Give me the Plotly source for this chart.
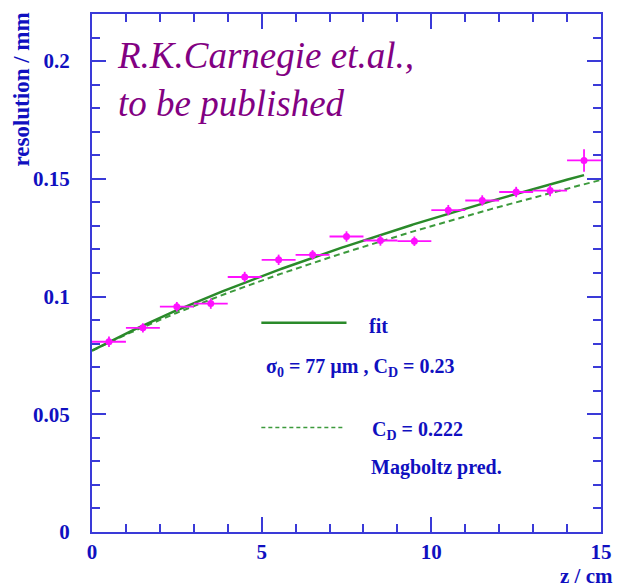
import numpy as np
import plotly.graph_objects as go

# Measured drift-chamber resolution versus drift distance
z_cm = [0.5, 1.5, 2.5, 3.5, 4.5, 5.5, 6.5, 7.5, 8.5, 9.5, 10.5, 11.5, 12.5, 13.5, 14.5]
resolution_mm = [0.0808, 0.0867, 0.0957, 0.0970, 0.1083, 0.1156, 0.1177, 0.1255,
                 0.1238, 0.1235, 0.1367, 0.1408, 0.1444, 0.1450, 0.1578]
z_halfwidth = [0.5] * 15
res_err = [0.0022, 0.0020, 0.0020, 0.0022, 0.0022, 0.0022, 0.0020, 0.0022,
           0.0022, 0.0020, 0.0022, 0.0022, 0.0022, 0.0024, 0.0048]

# Resolution model: sigma^2 = sigma0^2 + C_D^2 * z / N_eff
sigma0_mm = 0.077
cd_fit = 0.23
cd_magboltz = 0.222
n_eff = 45.0

def resolution_model(z, cd):
    return np.sqrt(sigma0_mm ** 2 + cd ** 2 * z / n_eff)

z_fit = np.linspace(0.0, 14.5, 200)
z_pred = np.linspace(0.0, 15.0, 200)

AXIS_BLUE = "#3a3ad8"
LABEL_BLUE = "#1010c0"
SERIF = "Liberation Serif"

fig = go.Figure()

fig.add_trace(go.Scatter(
    x=z_pred, y=resolution_model(z_pred, cd_magboltz), mode="lines",
    line=dict(color="#3c9a3c", width=2, dash="6px,4px"), showlegend=False,
))
fig.add_trace(go.Scatter(
    x=z_fit, y=resolution_model(z_fit, cd_fit), mode="lines",
    line=dict(color="#2a8a2a", width=2.5), showlegend=False,
))
fig.add_trace(go.Scatter(
    x=z_cm, y=resolution_mm, mode="markers",
    marker=dict(color="#ff10ff", size=7),
    error_x=dict(type="data", array=z_halfwidth, color="#ff10ff", thickness=1.8, width=0),
    error_y=dict(type="data", array=res_err, color="#ff10ff", thickness=1.8, width=0),
    showlegend=False,
))

# Legend drawn by hand, ROOT style
fig.add_shape(type="line", xref="paper", yref="paper",
              x0=(265 - 92) / 520, x1=(352 - 92) / 520,
              y0=(532 - 322) / 520, y1=(532 - 322) / 520,
              line=dict(color="#2a8a2a", width=2.5))
fig.add_shape(type="line", xref="paper", yref="paper",
              x0=(265 - 92) / 520, x1=(348 - 92) / 520,
              y0=(532 - 427) / 520, y1=(532 - 427) / 520,
              line=dict(color="#3c9a3c", width=1.5, dash="4px,3px"))

legend_font = dict(family=SERIF, size=20, color=LABEL_BLUE, weight="bold")

def paper_text(text, px, py, size=None, xanchor="left"):
    f = dict(legend_font)
    if size:
        f["size"] = size
    fig.add_annotation(text=text, xref="paper", yref="paper",
                       x=(px - 92) / 520, y=(532 - py) / 520,
                       xanchor=xanchor, yanchor="middle", showarrow=False, font=f)

paper_text("fit", 373, 325)
paper_text("\u03c3<sub>0</sub> = 77 \u00b5m , C<sub>D</sub> = 0.23", 268, 367)
paper_text("C<sub>D</sub> = 0.222", 376, 430)
paper_text("Magboltz pred.", 375, 467)

fig.add_annotation(
    text="R.K.Carnegie et.al.,<br>to be published",
    xref="paper", yref="paper", x=(116 - 92) / 520, y=(532 - 31) / 520,
    xanchor="left", yanchor="top", align="left", showarrow=False,
    font=dict(family=SERIF, size=37, color="#820082", style="italic"),
)

axis_common = dict(
    showline=True, linecolor=AXIS_BLUE, linewidth=2, mirror="allticks",
    ticks="inside", tickcolor=AXIS_BLUE, tickwidth=1.5,
    showgrid=False, zeroline=False,
    tickfont=dict(family=SERIF, size=21, color=LABEL_BLUE, weight="bold"),
)

fig.update_xaxes(
    range=[0, 15], tick0=0, dtick=5, ticklen=15,
    minor=dict(dtick=1, ticks="inside", ticklen=8, tickcolor=AXIS_BLUE, tickwidth=1.5, showgrid=False),
    **axis_common,
)
fig.update_yaxes(
    range=[0, 0.22], tick0=0, dtick=0.05, ticklen=14, ticklabelstandoff=16,
    minor=dict(dtick=0.01, ticks="inside", ticklen=8, tickcolor=AXIS_BLUE, tickwidth=1.5, showgrid=False),
    **axis_common,
)

# Axis titles placed at the ends of the axes
fig.add_annotation(text="z / cm", xref="paper", yref="paper", x=1.0 + 14 / 520, y=(532 - 576) / 520,
                   xanchor="right", yanchor="middle", showarrow=False,
                   font=dict(family=SERIF, size=21, color=LABEL_BLUE, weight="bold"))
fig.add_annotation(text="resolution / mm", xref="paper", yref="paper",
                   x=(19 - 92) / 520, y=1.0 - (9 - 12) / 520,
                   xanchor="center", yanchor="top", textangle=-90, showarrow=False,
                   font=dict(family=SERIF, size=23, color=LABEL_BLUE, weight="bold"))

fig.update_layout(
    width=624, height=587,
    margin=dict(l=92, r=12, t=12, b=55),
    plot_bgcolor="white", paper_bgcolor="white",
)

fig.write_html("out.html")
